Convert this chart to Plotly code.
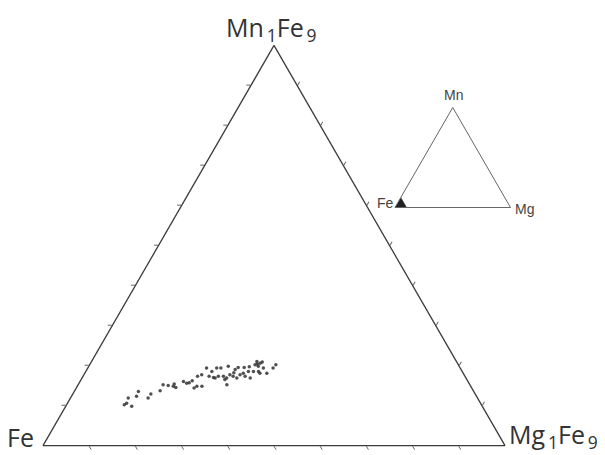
import plotly.graph_objects as go

# composition within the Mn1Fe9 - Fe - Mg1Fe9 sub-triangle (% of each corner)
mn = [10.2, 10.6, 11.9, 9.8, 12.3, 13.5, 11.9, 12.9, 13.7, 15.2,
      15.0, 14.8, 15.4, 16.0, 15.6, 16.2, 14.4, 14.8, 17.3, 17.7,
      14.8, 19.4, 17.3, 17.0, 19.4, 17.3, 19.4, 17.3, 16.9, 15.2,
      19.8, 17.7, 17.3, 19.0, 16.9, 19.5, 17.7, 18.1, 17.3, 18.5,
      16.9, 18.5, 20.2, 21.0, 19.8, 18.1, 19.4, 18.1, 19.4, 20.2,
      20.6, 16.9, 16.5, 18.5, 20.4, 20.9, 19.5, 15.7, 14.5, 18.5,
      18.2, 19.7]
mg = [12.5, 12.8, 12.5, 14.3, 14.1, 13.9, 16.8, 16.9, 18.5, 18.4,
      19.6, 20.8, 20.7, 22.4, 23.3, 24.2, 25.5, 25.9, 24.8, 25.5,
      27.0, 25.7, 27.3, 28.4, 27.9, 29.3, 28.8, 30.4, 31.3, 32.2,
      30.2, 31.6, 32.5, 32.1, 33.5, 32.5, 33.8, 34.3, 35.1, 35.2,
      36.4, 36.3, 35.8, 35.8, 36.7, 37.9, 38.0, 39.4, 40.1, 40.3,
      36.7, 28.8, 31.1, 37.4, 36.2, 37.0, 33.8, 23.8, 21.5, 27.3,
      32.2, 34.8]
fe = [77.3, 76.6, 75.6, 75.9, 73.6, 72.6, 71.3, 70.2, 67.8, 66.4,
      65.4, 64.4, 63.9, 61.6, 61.1, 59.6, 60.1, 59.3, 57.9, 56.8,
      58.2, 54.9, 55.4, 54.6, 52.7, 53.4, 51.8, 52.3, 51.8, 52.6,
      50.0, 50.7, 50.2, 48.9, 49.6, 48.0, 48.5, 47.6, 47.6, 46.3,
      46.7, 45.2, 44.0, 43.2, 43.5, 44.0, 42.6, 42.5, 40.5, 39.5,
      42.7, 54.3, 52.4, 44.1, 43.4, 42.1, 46.7, 60.5, 64.0, 54.2,
      49.6, 45.5]

# inset: whole Mn-Fe-Mg system, shaded corner = the plotted sub-triangle
key_mn = [0, 10, 0, 0]
key_fe = [100, 90, 90, 100]
key_mg = [0, 0, 10, 0]

ticks = [10, 20, 30, 40, 50, 60, 70, 80, 90]


def main_axis():
    return dict(min=0, showgrid=False, showticklabels=False,
                title=dict(text=""),
                linecolor="#3c3c3c", linewidth=1.3,
                ticks="outside", ticklen=4, tickcolor="#666", tickwidth=1,
                tickvals=ticks)


def key_axis():
    return dict(min=0, showgrid=False, showticklabels=False,
                title=dict(text=""),
                linecolor="#666", linewidth=1, ticks="")


fig = go.Figure()

fig.add_trace(go.Scatterternary(
    a=mn, b=fe, c=mg,
    mode="markers",
    marker=dict(size=3.5, color="#333", opacity=0.85),
    subplot="ternary",
    showlegend=False,
))

fig.add_trace(go.Scatterternary(
    a=key_mn, b=key_fe, c=key_mg,
    mode="lines", fill="toself",
    line=dict(color="#222", width=0.5),
    fillcolor="#222",
    subplot="ternary2",
    showlegend=False,
))

big = dict(family="Open Sans", size=25, color="#333")
small = dict(family="Liberation Sans", size=14, color="#444")

# the page body adds an 8px offset, so positions below are shifted by -8px
fig.update_layout(
    width=605, height=455,
    margin=dict(l=0, r=0, t=0, b=0),
    paper_bgcolor="white",
    ternary=dict(
        sum=100,
        domain=dict(x=[35 / 605, 497 / 605], y=[17 / 455, 418 / 455]),
        bgcolor="white",
        aaxis=main_axis(), baxis=main_axis(), caxis=main_axis(),
    ),
    ternary2=dict(
        sum=100,
        domain=dict(x=[387 / 605, 502.5 / 605], y=[255.5 / 455, 355.5 / 455]),
        bgcolor="rgba(0,0,0,0)",
        aaxis=key_axis(), baxis=key_axis(), caxis=key_axis(),
    ),
    annotations=[
        dict(text="Mn<sub>\u20091</sub>Fe<sub>\u20099</sub>", x=263 / 605, y=414 / 455,
             xanchor="center", yanchor="bottom", font=big),
        dict(text="Fe", x=28 / 605, y=26 / 455,
             xanchor="right", yanchor="middle", font=big),
        dict(text="Mg<sub>\u20091</sub>Fe<sub>\u20099</sub>", x=499 / 605, y=7 / 455,
             xanchor="left", yanchor="bottom", font=big),
        dict(text="Mn", x=445 / 605, y=368 / 455,
             xanchor="center", yanchor="middle", font=small),
        dict(text="Fe", x=388 / 605, y=260 / 455,
             xanchor="right", yanchor="middle", font=small),
        dict(text="Mg", x=505 / 605, y=254 / 455,
             xanchor="left", yanchor="middle", font=small),
    ],
)

for ann in fig.layout.annotations:
    ann.update(xref="paper", yref="paper", showarrow=False)

fig.write_html("out.html")
